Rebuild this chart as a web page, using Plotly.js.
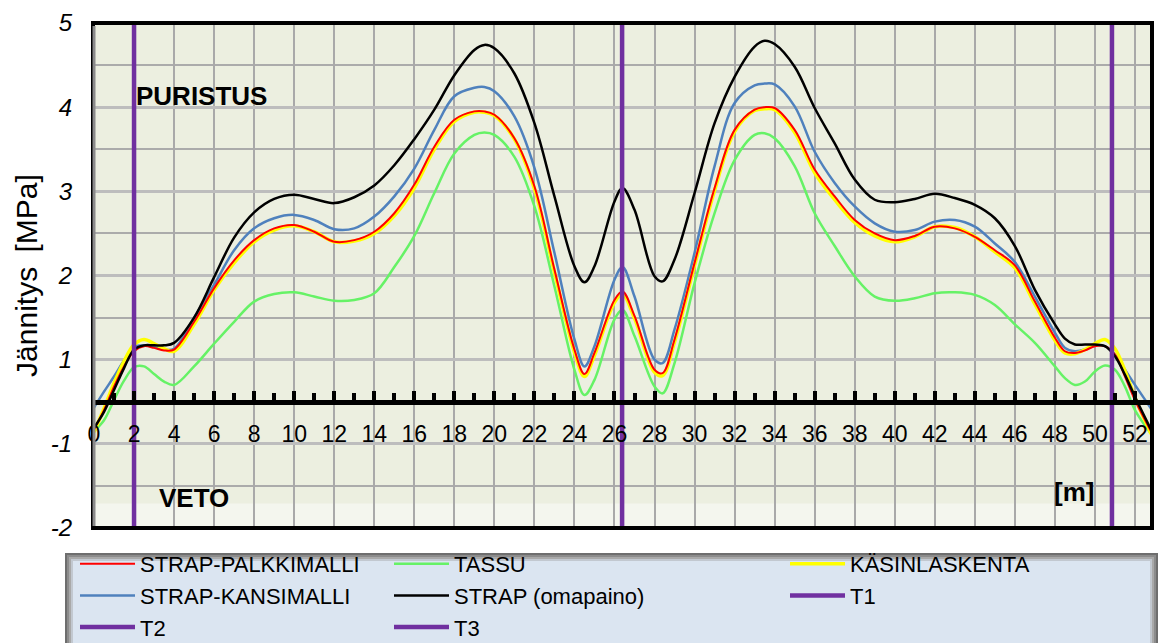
<!DOCTYPE html>
<html><head><meta charset="utf-8">
<script src="https://cdn.plot.ly/plotly-3.0.1.min.js"></script>
<style>html,body{margin:0;padding:0;background:#fff}#chart{width:1163px;height:643px}</style>
</head><body><div id="chart"></div>
<script>
// distance along the structure [m]
const xs = [0,0.5,1,1.5,2,2.5,3,3.5,4,5,6,7,8,9,10,11,12,13,14,15,16,17,18,19,19.5,20,21,22,23,24,24.5,25,26,26.4,27,28,28.4,29,30,31,32,33,33.5,34,35,36,37,38,39,40,41,42,43,44,45,46,47,48,48.5,49,49.5,50,50.5,51,51.5,52,52.8];

const strapPalkki = [0.17,0.40,0.68,0.92,1.10,1.16,1.14,1.11,1.12,
 1.45,1.85,2.18,2.42,2.56,2.60,2.52,2.40,2.42,2.52,2.74,3.08,3.53,3.85,3.95,
 3.95,
 3.91,3.63,3.06,2.07,1.12,
 0.83,
 1.08,1.71,
 1.81,
 1.52,0.88,
 0.84,
 1.24,2.15,3.04,3.73,3.97,
 4.00,
 3.99,3.73,3.26,2.94,2.66,2.50,2.42,2.47,2.58,2.56,2.46,2.30,2.12,1.69,1.26,
 1.10,1.08,1.11,1.16,1.16,1.06,0.80,0.52,0.15];

const tassu = [0.15,0.28,0.52,0.75,0.91,0.92,0.83,0.74,0.70,
 0.92,1.19,1.45,1.69,1.78,1.80,1.75,1.70,1.71,1.79,2.10,2.47,2.98,3.45,3.67,
 3.70,
 3.67,3.41,2.82,1.87,0.88,
 0.58,
 0.76,1.48,
 1.59,
 1.28,0.68,
 0.60,
 0.96,1.91,2.74,3.37,3.67,
 3.69,
 3.63,3.30,2.74,2.35,1.99,1.75,1.70,1.73,1.79,1.80,1.77,1.65,1.42,1.20,0.92,
 0.78,0.70,0.74,0.86,0.93,0.88,0.68,0.40,0.12];

const kasin = [0.14,0.42,0.72,0.98,1.18,1.24,1.19,1.13,1.10,
 1.42,1.83,2.15,2.40,2.54,2.59,2.52,2.40,2.41,2.50,2.71,3.04,3.50,3.83,3.94,
 3.94,
 3.90,3.62,3.03,2.04,1.09,
 0.80,
 1.05,1.68,
 1.78,
 1.49,0.85,
 0.81,
 1.21,2.12,3.01,3.71,3.96,
 3.98,
 3.97,3.70,3.22,2.90,2.63,2.47,2.40,2.46,2.58,2.57,2.46,2.28,2.09,1.66,1.23,
 1.08,1.07,1.12,1.19,1.24,1.13,0.87,0.55,0.12];

const strapKansi = [0.43,0.62,0.80,0.99,1.15,1.17,1.15,1.12,1.13,
 1.50,1.89,2.30,2.56,2.68,2.72,2.66,2.55,2.56,2.70,2.94,3.27,3.73,4.13,4.23,
 4.24,
 4.19,3.89,3.28,2.27,1.24,
 0.92,
 1.16,1.95,
 2.10,
 1.75,1.00,
 0.96,
 1.36,2.27,3.30,4.05,4.26,
 4.28,
 4.27,4.01,3.47,3.10,2.82,2.62,2.52,2.54,2.64,2.66,2.58,2.38,2.16,1.75,1.32,
 1.14,1.10,1.12,1.17,1.16,1.06,0.88,0.70,0.42];

const strapOmapaino = [0.19,0.38,0.64,0.90,1.12,1.17,1.17,1.17,1.20,
 1.50,1.98,2.45,2.75,2.91,2.96,2.91,2.86,2.93,3.07,3.31,3.62,3.97,4.38,4.68,
 4.74,
 4.70,4.40,3.81,2.94,2.11,
 1.92,
 2.11,2.88,
 3.04,
 2.78,1.99,
 1.93,
 2.19,2.98,3.81,4.36,4.72,
 4.79,
 4.75,4.48,3.99,3.57,3.14,2.90,2.87,2.91,2.97,2.92,2.84,2.68,2.35,1.83,1.42,
 1.25,1.18,1.18,1.18,1.16,1.04,0.82,0.56,0.17];

// support lines T1..T3 [m]
const supportNames = ['T1','T2','T3'];
const supportPos = [2.0, 26.38, 50.85];

// axis tick labels
const yTickVals = [-1,0,1,2,3,4,5];
const yTickText = ['-2','-1','1','2','3','4','5'];
const xTickVals = [0,2,4,6,8,10,12,14,16,18,20,22,24,26,28,30,32,34,36,38,40,42,44,46,48,50,52];
const yRange = [-1,5];

const FONT = 'Liberation Sans, Arial, sans-serif';

function curve(name, y, color, width, legend, rank){
  return {type:'scatter', mode:'lines', x:xs, y:y, name:name,
    line:{color:color, width:width, shape:'spline', smoothing:1},
    legend:legend, legendrank:rank, hoverinfo:'skip'};
}
const traces = [
  curve('TASSU', tassu, '#66F266', 2.5, 'legend2', 1),
  curve('STRAP-KANSIMALLI', strapKansi, '#4F81BD', 2.5, 'legend', 2),
  curve('KÄSINLASKENTA', kasin, '#FFFF00', 3.5, 'legend3', 1),
  curve('STRAP-PALKKIMALLI', strapPalkki, '#FF0000', 2, 'legend', 1),
  curve('STRAP (omapaino)', strapOmapaino, '#000000', 2.5, 'legend2', 2)
];
const supLegend = ['legend3','legend','legend2'];
const supRank = [2,3,3];
supportNames.forEach((n,i)=>{
  traces.push({type:'scatter', mode:'lines', x:[supportPos[i],supportPos[i]], y:yRange,
    name:n, line:{color:'#7030A0', width:4.5}, legend:supLegend[i], legendrank:supRank[i],
    hoverinfo:'skip'});
});

// pixel helpers for paper coords (plot area 93..1152 x 23..528)
const PW = 1059, PH = 505;
const px = v => (v-93)/PW;
const py = v => (528-v)/PH;
const cy = v => (643-v)/643;   // container y

const shapes = [
  {type:'rect', xref:'paper', yref:'y', x0:0, x1:1, y0:-1, y1:-0.71,
   fillcolor:'rgba(255,255,255,0.45)', line:{width:0}, layer:'between'},
  {type:'rect', xref:'paper', yref:'paper', x0:0, x1:1, y0:0, y1:1,
   line:{color:'#000', width:4}, layer:'above'},
  {type:'line', xref:'paper', yref:'paper', x0:px(94), x1:px(94), y0:py(26), y1:py(526),
   line:{color:'#8A8A8A', width:3}, layer:'above'}
];
// legend box with soft shaded border
const box = [65,553,1158,660];
const ring = ['#6E6E6E','#8C8C8C','#A9A9A9','#C2C8D0'];
shapes.push({type:'rect', xref:'paper', yref:'paper', x0:px(box[0]), x1:px(box[2]), y0:py(box[1]), y1:py(box[3]),
  fillcolor:'#DBE5F1', line:{width:0}, layer:'above'});
ring.forEach((c,i)=>{
  const d = 1 + i*2;
  shapes.push({type:'rect', xref:'paper', yref:'paper', x0:px(box[0]+d), x1:px(box[2]-d), y0:py(box[1]+d), y1:py(box[3]),
    fillcolor:'rgba(0,0,0,0)', line:{color:c, width:2}, layer:'above'});
});

const legendBase = {bgcolor:'rgba(0,0,0,0)', borderwidth:0, font:{family:FONT, size:22, color:'#000'},
  orientation:'v', xanchor:'left', yanchor:'top', yref:'container', tracegroupgap:0, itemwidth:55,
  itemclick:false, itemdoubleclick:false};

const layout = {
  width:1163, height:643,
  margin:{l:93, r:11, t:23, b:115, pad:0},
  paper_bgcolor:'#ffffff', plot_bgcolor:'#ECEFE0',
  font:{family:FONT, color:'#000'},
  showlegend:true,
  legend:Object.assign({}, legendBase, {x:px(75), y:cy(543)}),
  legend2:Object.assign({}, legendBase, {x:px(389), y:cy(543)}),
  legend3:Object.assign({}, legendBase, {x:px(785), y:cy(543)}),
  xaxis:{range:[-0.05,52.85], tickmode:'array', tickvals:xTickVals, ticktext:xTickVals.map(String),
    showgrid:true, gridcolor:'#A9A9A9', gridwidth:2, zeroline:false,
    showline:true, linecolor:'#000', linewidth:5, anchor:'free', position:0.25,
    ticks:'inside', ticklen:9, tickwidth:4, tickcolor:'#000',
    tickfont:{family:FONT, size:23, color:'#000'}, ticklabelstandoff:10,
    minor:{dtick:1, tick0:0, ticks:'inside', ticklen:7, tickwidth:4, tickcolor:'#000', showgrid:false},
    fixedrange:true},
  yaxis:{range:yRange, tickmode:'array', tickvals:yTickVals, ticktext:yTickText,
    showgrid:true, gridcolor:'#BDBDBD', gridwidth:3,
    minor:{dtick:0.5, tick0:0, showgrid:true, gridcolor:'#ABABAB', gridwidth:2, ticks:''},
    zeroline:false, showline:false, ticks:'',
    tickfont:{family:FONT, size:24, color:'#000', style:'italic'}, ticklabelstandoff:20,
    title:{text:'Jännitys\u00A0\u2009[MPa]', font:{family:FONT, size:30, color:'#000'}, standoff:4},
    automargin:false, fixedrange:true},
  shapes:shapes,
  annotations:[
    {xref:'x', yref:'y', x:2.0, y:4.13, xanchor:'left', yanchor:'middle', showarrow:false,
     text:'PURISTUS', font:{family:FONT, size:26, weight:'bold', color:'#000'}},
    {xref:'x', yref:'y', x:3.15, y:-0.64, xanchor:'left', yanchor:'middle', showarrow:false,
     text:'VETO', font:{family:FONT, size:26, weight:'bold', color:'#000'}},
    {xref:'x', yref:'y', x:47.85, y:-0.57, xanchor:'left', yanchor:'middle', showarrow:false,
     text:'[m]', font:{family:FONT, size:26, weight:'bold', color:'#000'}}
  ]
};

Plotly.newPlot('chart', traces, layout, {staticPlot:true, displayModeBar:false});
</script>
</body></html>
